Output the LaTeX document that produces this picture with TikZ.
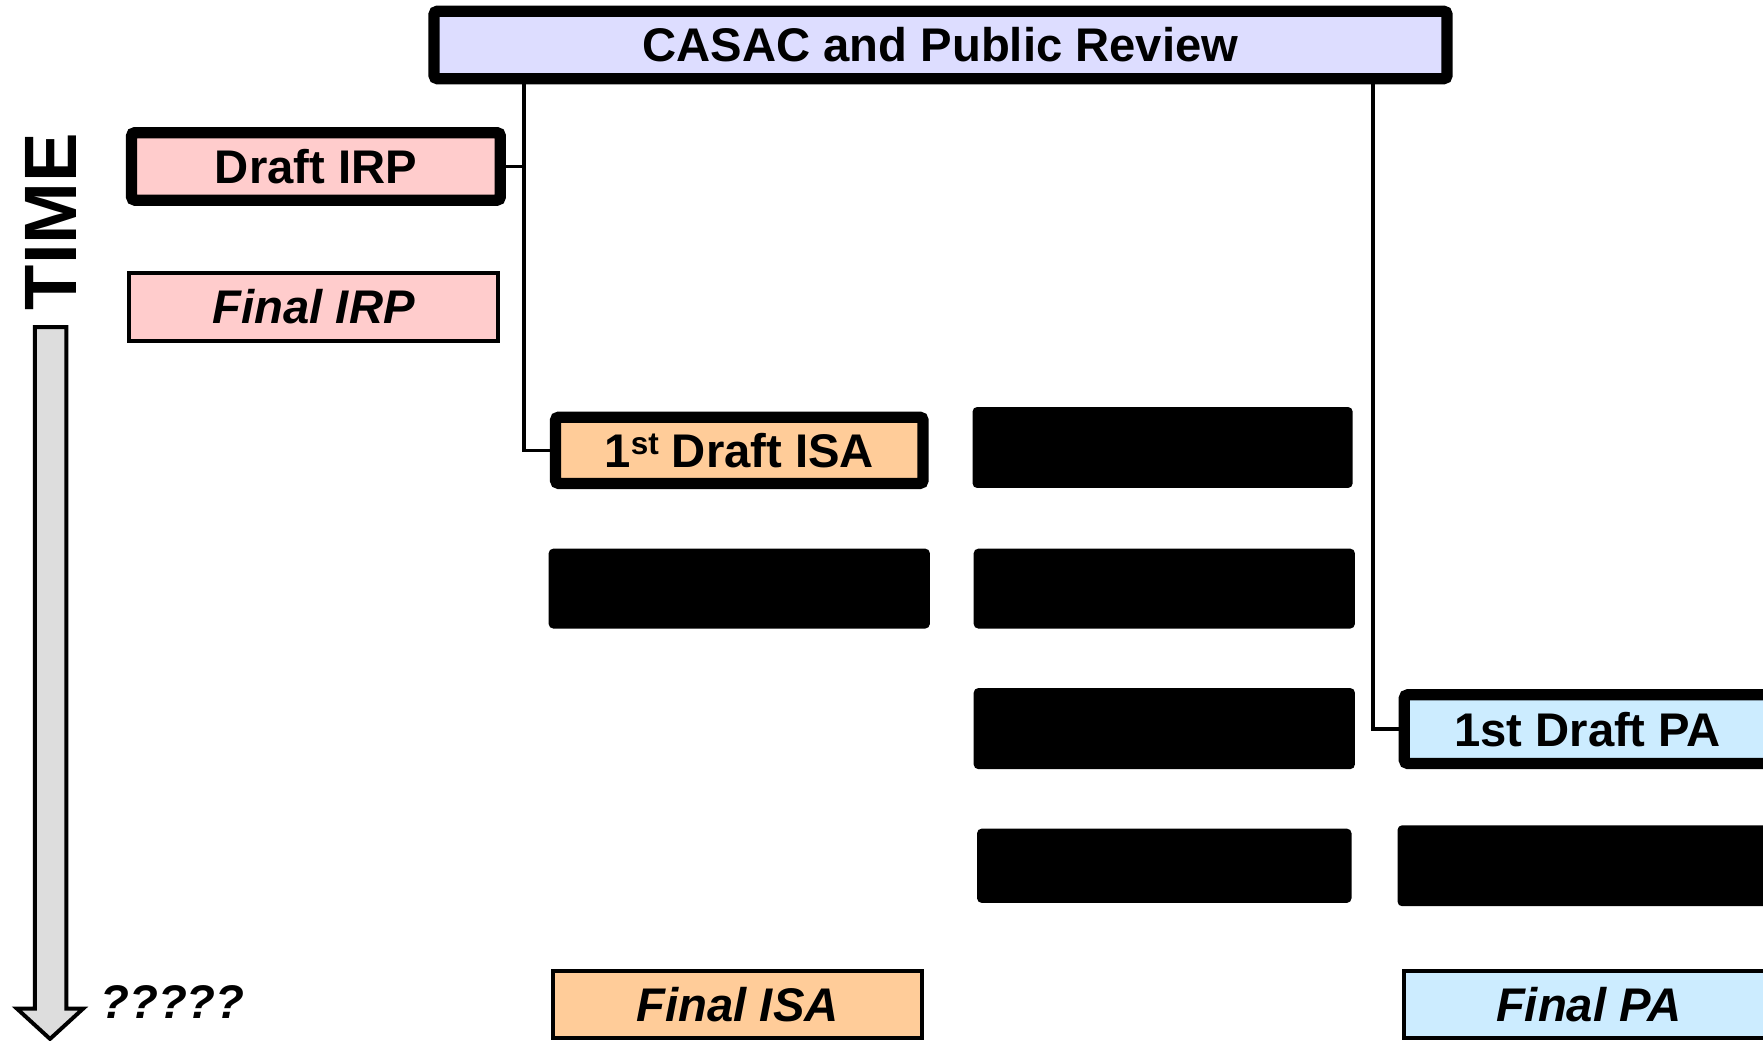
\documentclass[tikz,border=0pt]{standalone}
\usepackage{fontspec}
\setmainfont{Liberation Sans}
\definecolor{casacfill}{HTML}{DDDDFF}
\definecolor{irpfill}{HTML}{FFCCCC}
\definecolor{isafill}{HTML}{FFCC99}
\definecolor{pafill}{HTML}{CCECFF}
\definecolor{arrowfill}{HTML}{DDDDDD}
\newcommand{\boxfont}{\fontsize{42}{50}\selectfont\bfseries}
\newcommand{\boxfontit}{\fontsize{42}{50}\selectfont\bfseries\itshape}
\newcommand{\supst}[1]{\raisebox{0.5ex}{\fontsize{28}{30}\selectfont #1}}
\begin{document}
\begin{tikzpicture}[x=1pt,y=-1pt,
  thickbox/.style={draw, line width=10pt, rounded corners=3pt, inner sep=0pt, font=\boxfont},
  thinbox/.style={draw, line width=3.5pt, inner sep=0pt, font=\boxfontit},
  redact/.style={fill=black, rounded corners=4pt, inner sep=0pt},
  conn/.style={draw, line width=3pt}]
\useasboundingbox (0,0) rectangle (1568,925);
\clip (0,0) rectangle (1568,925);

% time arrow
\draw[line width=3.5pt, fill=arrowfill, line join=miter]
  (31,291) -- (59,291) -- (59,897) -- (74,897) -- (44.5,924) -- (15,897) -- (31,897) -- cycle;
\node[rotate=90, font=\fontsize{66}{70}\selectfont\bfseries, inner sep=0pt] (time) at (45,197) {TIME};
\node[anchor=west, font=\boxfontit, inner sep=0pt] (q) at (89,891) {?????};

% boxes
\node[thickbox, fill=casacfill, minimum width=901pt, minimum height=60pt] (casac) at (836.5,40) {CASAC and Public Review};
\node[thickbox, fill=irpfill, minimum width=328pt, minimum height=60pt] (irpd) at (281,148) {Draft IRP};
\node[thinbox, fill=irpfill, minimum width=328.5pt, minimum height=60.5pt] (irpf) at (279,273) {Final IRP};
\node[thickbox, fill=isafill, minimum width=327pt, minimum height=59pt] (isa1) at (657.5,400.5) {1\supst{st} Draft ISA};
\node[thickbox, fill=pafill, minimum width=326pt, minimum height=61pt] (pa1) at (1412,648.5) {1st Draft PA};
\node[thinbox, fill=isafill, minimum width=328.5pt, minimum height=59.5pt] (isaf) at (656,893.5) {Final ISA};
\node[thinbox, fill=pafill, minimum width=328.5pt, minimum height=59.5pt] (paf) at (1413,893.5) {Final PA};

% redacted boxes
\node[redact, minimum width=338pt, minimum height=72pt] (r1) at (1034,398) {};
\node[redact, minimum width=339pt, minimum height=71pt] (r2) at (657.5,523.5) {};
\node[redact, minimum width=339pt, minimum height=71pt] (r3) at (1035.5,523.5) {};
\node[redact, minimum width=339pt, minimum height=72pt] (r4) at (1035.5,648) {};
\node[redact, minimum width=333pt, minimum height=66pt] (r5) at (1035.5,770) {};
\node[redact, minimum width=357pt, minimum height=72pt] (r6) at (1421.5,770) {};

% connectors
\coordinate (jl) at (466,400.5);
\coordinate (jr) at (1221,648.5);
\draw[conn] (casac.south -| jl) -- (jl) -- (isa1.west);
\draw[conn] (irpd.east) -- (irpd.east -| jl);
\draw[conn] (casac.south -| jr) -- (jr) -- (pa1.west);
\end{tikzpicture}
\end{document}
